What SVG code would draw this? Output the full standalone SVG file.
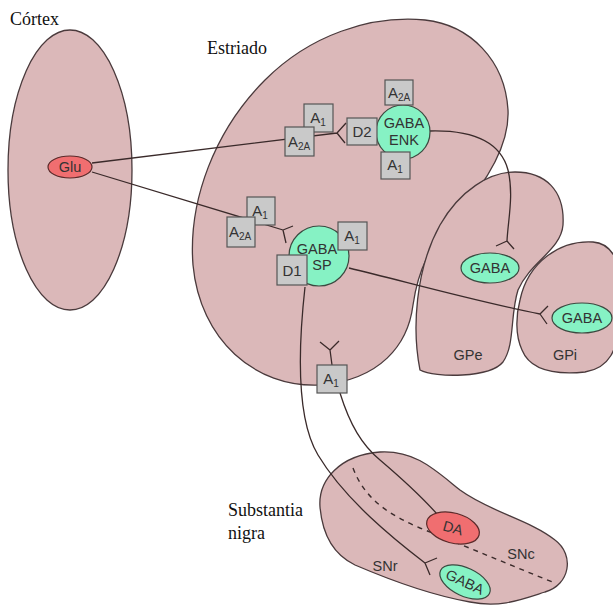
<svg xmlns="http://www.w3.org/2000/svg" width="613" height="609" viewBox="0 0 613 609">
<style>
.region{fill:#dbb8b9;stroke:#4a3a3c;stroke-width:1.3}
.box{fill:#c9c9c9;stroke:#555;stroke-width:1.2}
.green{fill:#86f2c4;stroke:#3a4a40;stroke-width:1.2}
.red{fill:#f06e70;stroke:#5a2a2a;stroke-width:1.2}
.ln{fill:none;stroke:#3a2a2a;stroke-width:1.3}
.dash{fill:none;stroke:#3a2a2a;stroke-width:1.4;stroke-dasharray:5 5}
.s{font-family:"Liberation Sans",Arial,sans-serif;font-size:14.5px;fill:#333;text-anchor:middle}
.b{font-family:"Liberation Sans",Arial,sans-serif;font-size:15px;fill:#333;text-anchor:middle}
.sub{font-size:10px}
.serif{font-family:"Liberation Serif","Times New Roman",serif;font-size:18px;fill:#111}
</style>
<rect width="613" height="609" fill="#ffffff"/>
<g id="cortex">
<ellipse class="region" cx="70" cy="170" rx="62" ry="140"/>
<text class="serif" x="10" y="25">Córtex</text>
</g>
<g id="estriado">
<path class="region" d="M193,265 C188,200 215,130 265,80 C310,35 370,15 425,20 C470,25 505,60 508,110 C510,150 480,190 455,218 C430,245 418,270 413,305 C408,345 380,380 320,385 C255,388 200,340 193,265 Z"/>
<text class="serif" x="207" y="54">Estriado</text>
</g>
<g id="gpe">
<path class="region" d="M420,370 C412,330 415,270 440,225 C460,190 490,172 515,172 C545,172 565,190 563,225 C561,250 530,262 518,290 C510,315 515,345 503,362 C490,378 435,378 420,370 Z"/>
<text class="s" x="468" y="360">GPe</text>
</g>
<g id="gpi">
<path class="region" d="M520,300 C528,262 560,240 593,242 C620,244 625,280 620,320 C617,350 610,368 585,372 C555,375 530,370 522,350 C515,335 516,315 520,300 Z"/>
<text class="s" x="565" y="360">GPi</text>
</g>
<g id="substantia-nigra">
<path class="region" d="M320,507 C318,480 340,455 380,452 C415,450 435,470 460,490 C490,512 530,520 555,540 C575,555 570,585 545,592 C520,600 500,608 470,602 C430,595 390,580 355,565 C330,553 322,530 320,507 Z"/>
<path class="dash" d="M353,468 C365,500 390,515 420,528 C470,548 510,565 555,583"/>
<text class="s" x="385" y="571">SNr</text>
<text class="s" x="521" y="559">SNc</text>
<text class="serif" x="228" y="516">Substantia</text>
<text class="serif" x="228" y="539">nigra</text>
</g>
<g id="connectors">
<path class="ln" d="M92,163 L337,133 M337,133 L346,123 M337,133 L345,143"/>
<path class="ln" d="M92,172 L283,230 M283,230 L293,226 M283,230 L286,243"/>
<path class="ln" d="M430,131 C470,130 500,140 508,170 C514,195 508,220 507,241 M507,241 L496,246 M507,241 L514,249"/>
<path class="ln" d="M349,268 C400,280 470,300 540,314 M540,314 L548,306 M540,314 L547,324"/>
<path class="ln" d="M305,287 C298,350 297,420 318,455 C345,500 395,540 425,563 M425,563 L437,558 M425,563 L430,575"/>
<path class="ln" d="M340,393 C350,425 362,445 380,460 C400,477 420,495 437,514"/>
<path class="ln" d="M332,365 L330,350 M330,350 L320,342 M330,350 L339,341"/>
</g>
<g id="glu">
<ellipse class="red" cx="70" cy="167" rx="22" ry="11"/>
<text class="s" x="70" y="172" font-size="13">Glu</text>
</g>
<g id="gaba-enk">
<circle class="green" cx="403" cy="132" r="27"/>
<text class="s" x="404" y="128">GABA</text>
<text class="s" x="404" y="145">ENK</text>
<rect class="box" x="385" y="80" width="28" height="25"/>
<text class="b" x="399" y="98"><tspan>A</tspan><tspan class="sub" dy="3">2A</tspan></text>
<rect class="box" x="347" y="118" width="30" height="27"/>
<text class="b" x="362" y="137">D2</text>
<rect class="box" x="381" y="152" width="29" height="27"/>
<text class="b" x="395" y="170"><tspan>A</tspan><tspan class="sub" dy="3">1</tspan></text>
</g>
<g id="receptors-enk">
<rect class="box" x="304" y="104" width="29" height="28"/>
<text class="b" x="318" y="123"><tspan>A</tspan><tspan class="sub" dy="3">1</tspan></text>
<rect class="box" x="285" y="127" width="29" height="29"/>
<text class="b" x="299" y="147"><tspan>A</tspan><tspan class="sub" dy="3">2A</tspan></text>
</g>
<g id="gaba-sp">
<circle class="green" cx="319" cy="256" r="30"/>
<text class="s" x="317" y="254">GABA</text>
<text class="s" x="322" y="270">SP</text>
<rect class="box" x="338" y="222" width="29" height="28"/>
<text class="b" x="352" y="241"><tspan>A</tspan><tspan class="sub" dy="3">1</tspan></text>
<rect class="box" x="277" y="255" width="30" height="30"/>
<text class="b" x="292" y="276">D1</text>
</g>
<g id="receptors-sp">
<rect class="box" x="247" y="197" width="28" height="28"/>
<text class="b" x="260" y="216"><tspan>A</tspan><tspan class="sub" dy="3">1</tspan></text>
<rect class="box" x="227" y="217" width="28" height="30"/>
<text class="b" x="240" y="237"><tspan>A</tspan><tspan class="sub" dy="3">2A</tspan></text>
</g>
<g id="a1-bottom">
<rect class="box" x="317" y="365" width="30" height="28"/>
<text class="b" x="331" y="384"><tspan>A</tspan><tspan class="sub" dy="3">1</tspan></text>
</g>
<g id="gaba-gpe">
<ellipse class="green" cx="490" cy="268" rx="29" ry="15"/>
<text class="s" x="490" y="273">GABA</text>
</g>
<g id="gaba-gpi">
<ellipse class="green" cx="582" cy="318" rx="30" ry="15"/>
<text class="s" x="582" y="323">GABA</text>
</g>
<g id="da">
<ellipse class="red" cx="453" cy="528" rx="27" ry="15" transform="rotate(15 453 528)"/>
<text class="s" x="453" y="533" transform="rotate(15 453 528)">DA</text>
</g>
<g id="gaba-sn">
<ellipse class="green" cx="465" cy="582" rx="27" ry="14" transform="rotate(25 465 582)"/>
<text class="s" x="465" y="587" transform="rotate(25 465 582)">GABA</text>
</g>
</svg>
